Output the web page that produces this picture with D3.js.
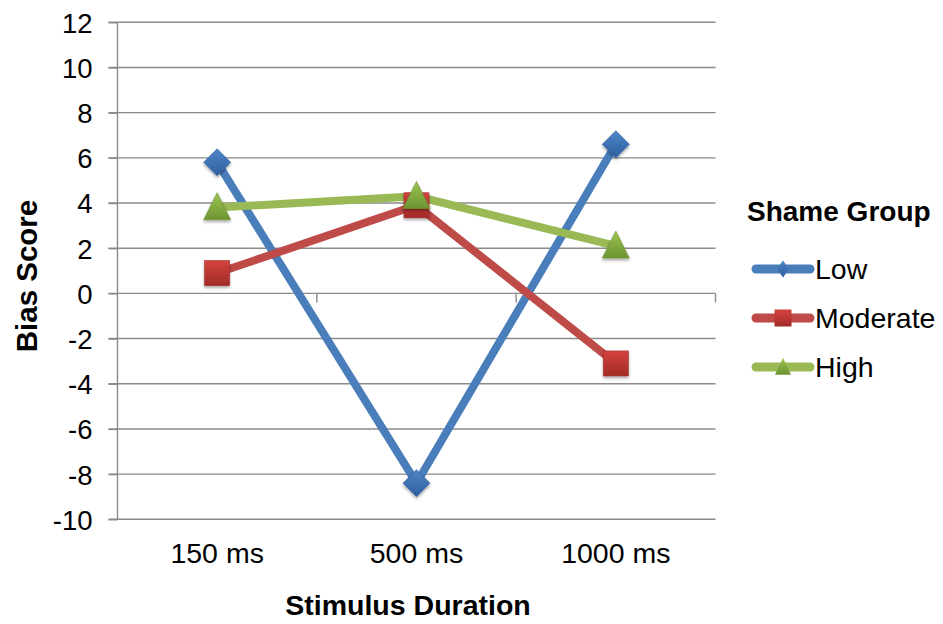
<!DOCTYPE html>
<html><head><meta charset="utf-8">
<script src="https://cdn.jsdelivr.net/npm/d3@7"></script>
<style>body{margin:0;background:#fff}svg{display:block}text{font-family:"Liberation Sans",Arial,sans-serif;fill:#000}</style>
</head><body><svg id="c" width="943" height="624"></svg>
<script>
const categories = ["150 ms", "500 ms", "1000 ms"];
const seriesNames = ["Low", "Moderate", "High"];
const lowValues = [5.8, -8.4, 6.6];
const moderateValues = [0.9, 3.9, -3.1];
const highValues = [3.8, 4.3, 2.1];
const yTicks = [-10, -8, -6, -4, -2, 0, 2, 4, 6, 8, 10, 12];

const series = [
  {name: seriesNames[0], values: lowValues, line: "#4A7EBB", m1: "#4F86C6", m2: "#2E5E9E", shape: "diamond"},
  {name: seriesNames[1], values: moderateValues, line: "#BE4B48", m1: "#D4433E", m2: "#A22B28", shape: "square"},
  {name: seriesNames[2], values: highValues, line: "#98B954", m1: "#9DC451", m2: "#6E9433", shape: "triangle"}
];

const svg = d3.select("#c");
const L = 117.5, R = 715.5, T = 22.3, B = 519.3;
const x = d3.scaleBand().domain(categories).range([L, R]);
const y = d3.scaleLinear().domain([-10, 12]).range([B, T]);
const GRID = "#8a8a8a";

const defs = svg.append("defs");
const f = defs.append("filter").attr("id","sh").attr("x","-50%").attr("y","-50%").attr("width","200%").attr("height","200%");
f.append("feDropShadow").attr("dx",0).attr("dy",2).attr("stdDeviation",1.5).attr("flood-color","#000").attr("flood-opacity",0.35);
series.forEach((s,i)=>{
  const g = defs.append("linearGradient").attr("id","g"+i).attr("x1",0).attr("y1",0).attr("x2",0).attr("y2",1);
  g.append("stop").attr("offset","0%").attr("stop-color",s.m1);
  g.append("stop").attr("offset","100%").attr("stop-color",s.m2);
});

// gridlines
svg.append("g").selectAll("line").data(yTicks).join("line")
  .attr("x1", L - 9).attr("x2", R).attr("y1", d=>y(d)).attr("y2", d=>y(d))
  .attr("stroke", GRID).attr("stroke-width", 1.4);

// y axis
const yAxis = svg.append("g").attr("transform", `translate(${L},0)`)
  .call(d3.axisLeft(y).tickValues(yTicks).tickSize(9).tickPadding(16).tickFormat(d3.format("d")));
yAxis.attr("font-size", null).attr("font-family", null);
yAxis.select(".domain").attr("stroke",GRID).attr("stroke-width",1.4).attr("d", `M0,${T}V${B}`);
yAxis.selectAll(".tick line").attr("stroke",GRID).attr("stroke-width",1.4);
yAxis.selectAll(".tick text").style("font-size", "27.5px").attr("dy", "0.36em").text(d=> d<0 ? "-"+Math.abs(d) : d);

// category ticks on the zero line
const bounds = categories.map(c=>x(c)).concat([R]);
svg.append("g").selectAll("line").data(bounds.slice(1)).join("line")
  .attr("x1", d=>d).attr("x2", d=>d).attr("y1", y(0)).attr("y2", y(0)+9)
  .attr("stroke",GRID).attr("stroke-width",1.4);

// category labels
svg.append("g").selectAll("text").data(categories).join("text")
  .attr("x", d=>x(d)+x.bandwidth()/2).attr("y", 563).attr("text-anchor","middle")
  .style("font-size", "28.5px").text(d=>d);

// axis titles
svg.append("text").attr("x", 408).attr("y", 615).attr("text-anchor","middle")
  .style("font-size", "28.5px").attr("font-weight","bold").text("Stimulus Duration");
svg.append("text").attr("transform","translate(37,276) rotate(-90)").attr("text-anchor","middle")
  .style("font-size", "29.5px").attr("font-weight","bold").text("Bias Score");

function marker(sel, shape, w, h) {
  const a = w/2, b = h/2;
  if (shape === "diamond") return sel.append("path").attr("d", `M0,${-b}L${a},0L0,${b}L${-a},0Z`);
  if (shape === "square") return sel.append("rect").attr("x",-a).attr("y",-b).attr("width",w).attr("height",h);
  return sel.append("path").attr("d", `M0,${-b*1.1}L${a},${b*0.9}L${-a},${b*0.9}Z`);
}

const line = d3.line().x((d,i)=>x(categories[i])+x.bandwidth()/2).y(d=>y(d));
series.forEach((s)=>{
  svg.append("path").attr("d", line(s.values)).attr("fill","none")
    .attr("stroke", s.line).attr("stroke-width", 8).attr("stroke-linejoin","round").attr("stroke-linecap","round");
});
series.forEach((s,i)=>{
  s.values.forEach((v,j)=>{
    const g = svg.append("g").attr("transform", `translate(${x(categories[j])+x.bandwidth()/2},${y(v)})`).attr("filter","url(#sh)");
    const sz = s.shape === "square" ? 25 : 27;
    marker(g, s.shape, sz, sz).attr("fill", `url(#g${i})`).attr("stroke", s.m2).attr("stroke-width", 0.6);
  });
});

// legend
svg.append("text").attr("x", 747).attr("y", 221).style("font-size", "28px").attr("font-weight","bold").text("Shame Group");
const lg = svg.append("g").selectAll("g").data(series).join("g")
  .attr("transform", (d,i)=>`translate(0,${269 + i*49})`);
lg.append("line").attr("x1", 756).attr("x2", 810).attr("y1",0).attr("y2",0)
  .attr("stroke", d=>d.line).attr("stroke-width", 9).attr("stroke-linecap","round");
lg.each(function(d,i){
  const g = d3.select(this).append("g").attr("transform","translate(783,0)");
  if (d.shape === "diamond") marker(g, d.shape, 12, 17).attr("fill", `url(#g${i})`);
  else if (d.shape === "square") marker(g, d.shape, 17, 17).attr("fill", `url(#g${i})`);
  else marker(g, d.shape, 16, 17).attr("fill", `url(#g${i})`);
});
lg.append("text").attr("x", 815).attr("y", 10).style("font-size", "28.5px").text(d=>d.name);
</script></body></html>
